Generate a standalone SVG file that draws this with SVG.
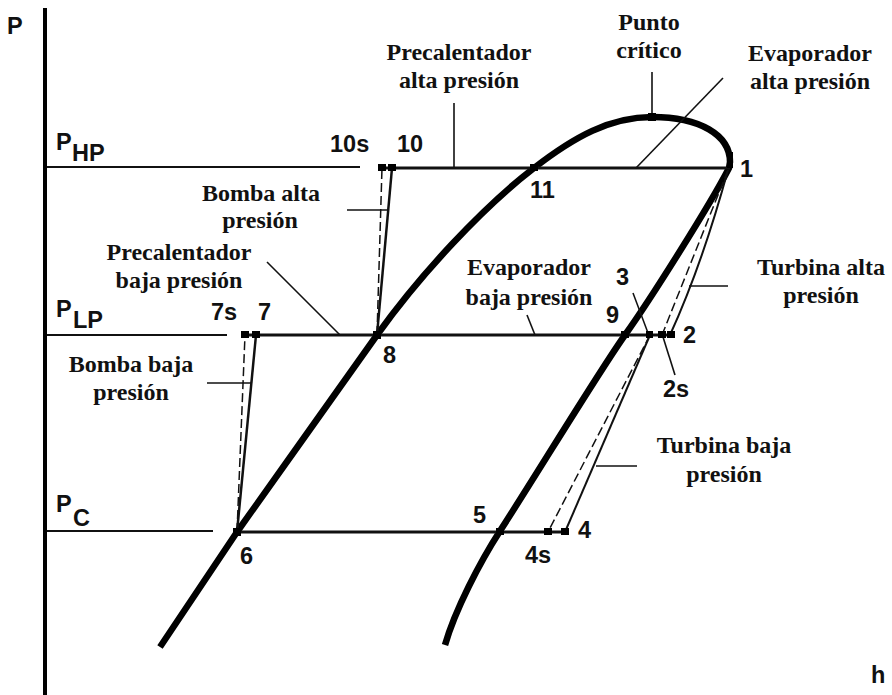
<svg xmlns="http://www.w3.org/2000/svg" width="892" height="695" viewBox="0 0 892 695">
<style>
.ser{font-family:"Liberation Serif","Times New Roman",serif;font-weight:bold;font-size:24px;fill:#111;text-anchor:middle}
.san{font-family:"Liberation Sans",Arial,sans-serif;font-weight:bold;font-size:23.5px;fill:#111}
.thin{stroke:#111;stroke-width:1.6;fill:none}
.iso{stroke:#111;stroke-width:2;fill:none}
.proc{stroke:#111;stroke-width:3;fill:none}
.dash{stroke:#111;stroke-width:1.5;fill:none;stroke-dasharray:9 4}
.dome{stroke:#000;stroke-width:6.5;fill:none;stroke-linecap:butt;stroke-linejoin:round}
.mk{fill:#000}
</style>
<rect width="892" height="695" fill="#fff"/>
<g id="axes">
<line x1="45" y1="8" x2="45" y2="695" stroke="#000" stroke-width="4"/>
<text class="san" x="7" y="34" font-size="27">P</text>
<text class="san" x="871" y="683" font-size="30">h</text>
</g>
<g id="isobars">
<line class="iso" x1="47" y1="167" x2="360" y2="167"/>
<line class="iso" x1="47" y1="335" x2="227" y2="335"/>
<line class="iso" x1="47" y1="531" x2="213" y2="531"/>
<text class="san" x="56" y="150">P</text><text class="san" x="72" y="161">HP</text>
<text class="san" x="56" y="317">P</text><text class="san" x="73" y="328">LP</text>
<text class="san" x="56" y="512">P</text><text class="san" x="73" y="526">C</text>
</g>
<g id="dome">
<path class="dome" d="M160,647 L237,532 C284,466 330,401 377,335 C420,275 482,208 534,168 C574,137 610,117 652,117 C700,117 730,135 730,162 L729,168 C710,205 650,300 625,335 C600,370 540,469 500,531 C480,562 455,610 445,645"/>
</g>
<g id="processes">
<line class="proc" x1="382" y1="168" x2="730" y2="168"/>
<line class="proc" x1="245" y1="335" x2="671" y2="335"/>
<line class="proc" x1="237" y1="532" x2="565" y2="532"/>
<line stroke="#111" stroke-width="2.5" x1="377" y1="335" x2="392" y2="168"/>
<line class="dash" x1="377" y1="335" x2="382" y2="168"/>
<line stroke="#111" stroke-width="2.5" x1="237" y1="532" x2="256" y2="335"/>
<line class="dash" x1="237" y1="532" x2="245" y2="335"/>
<path stroke="#111" stroke-width="2" fill="none" d="M728,170 Q702,265 670,335"/>
<line class="dash" x1="728" y1="170" x2="662" y2="335"/>
<line stroke="#111" stroke-width="2" x1="650" y1="335" x2="565" y2="532"/>
<line class="dash" x1="650" y1="335" x2="548" y2="532"/>
</g>
<g id="connectors">
<line class="thin" x1="652" y1="72" x2="652" y2="115"/>
<line class="thin" x1="454" y1="103" x2="454" y2="168"/>
<line class="thin" x1="723" y1="78" x2="636" y2="168"/>
<line class="thin" x1="347" y1="210" x2="388" y2="210"/>
<line class="thin" x1="267" y1="262" x2="340" y2="335"/>
<line class="thin" x1="527" y1="315" x2="535" y2="335"/>
<line class="thin" x1="689" y1="286" x2="728" y2="286"/>
<line class="thin" x1="207" y1="383" x2="251" y2="383"/>
<line class="thin" x1="633" y1="293" x2="648" y2="333"/>
<line class="thin" x1="663" y1="337" x2="675" y2="375"/>
<line class="thin" x1="596" y1="466" x2="637" y2="466"/>
</g>
<g id="point-critico"><rect class="mk" x="648" y="113" width="8" height="8"/>
<text class="ser" x="649" y="30">Punto</text><text class="ser" x="649" y="58">crítico</text></g>
<g id="point-1"><rect class="mk" x="727" y="152" width="6" height="16"/><text class="san" x="740" y="177">1</text></g>
<g id="point-10s"><rect class="mk" x="378" y="164" width="8" height="7"/><text class="san" x="330" y="152">10s</text></g>
<g id="point-10"><rect class="mk" x="388" y="164" width="8" height="7"/><text class="san" x="397" y="152">10</text></g>
<g id="point-11"><rect class="mk" x="530" y="164" width="8" height="7"/><text class="san" x="530" y="198">11</text></g>
<g id="point-7s"><rect class="mk" x="241" y="331" width="8" height="7"/><text class="san" x="211" y="320">7s</text></g>
<g id="point-7"><rect class="mk" x="252" y="331" width="8" height="7"/><text class="san" x="258" y="320">7</text></g>
<g id="point-8"><rect class="mk" x="373" y="331" width="8" height="8"/><text class="san" x="383" y="363">8</text></g>
<g id="point-9"><rect class="mk" x="621" y="331" width="8" height="7"/><text class="san" x="606" y="323">9</text></g>
<g id="point-3"><rect class="mk" x="646" y="331" width="7" height="7"/><text class="san" x="616" y="285">3</text></g>
<g id="point-2s"><rect class="mk" x="658" y="331" width="8" height="7"/><text class="san" x="663" y="397">2s</text></g>
<g id="point-2"><rect class="mk" x="667" y="331" width="8" height="7"/><text class="san" x="683" y="343">2</text></g>
<g id="point-6"><rect class="mk" x="233" y="528" width="8" height="8"/><text class="san" x="240" y="564">6</text></g>
<g id="point-5"><rect class="mk" x="496" y="528" width="8" height="7"/><text class="san" x="473" y="523">5</text></g>
<g id="point-4s"><rect class="mk" x="544" y="528" width="8" height="7"/><text class="san" x="525" y="563">4s</text></g>
<g id="point-4"><rect class="mk" x="561" y="528" width="8" height="7"/><text class="san" x="578" y="538">4</text></g>
<g id="labels">
<g id="lbl-precal-ap"><text class="ser" x="459" y="60">Precalentador</text><text class="ser" x="459" y="88">alta presión</text></g>
<g id="lbl-evap-ap"><text class="ser" x="810" y="61">Evaporador</text><text class="ser" x="810" y="89">alta presión</text></g>
<g id="lbl-bomba-ap"><text class="ser" x="261" y="201">Bomba alta</text><text class="ser" x="260" y="228">presión</text></g>
<g id="lbl-precal-bp"><text class="ser" x="179" y="260">Precalentador</text><text class="ser" x="179" y="288">baja presión</text></g>
<g id="lbl-evap-bp"><text class="ser" x="529" y="275">Evaporador</text><text class="ser" x="529" y="305">baja presión</text></g>
<g id="lbl-turb-ap"><text class="ser" x="821" y="275">Turbina alta</text><text class="ser" x="821" y="303">presión</text></g>
<g id="lbl-bomba-bp"><text class="ser" x="131" y="372">Bomba baja</text><text class="ser" x="131" y="400">presión</text></g>
<g id="lbl-turb-bp"><text class="ser" x="724" y="453">Turbina baja</text><text class="ser" x="724" y="482">presión</text></g>
</g>
</svg>
